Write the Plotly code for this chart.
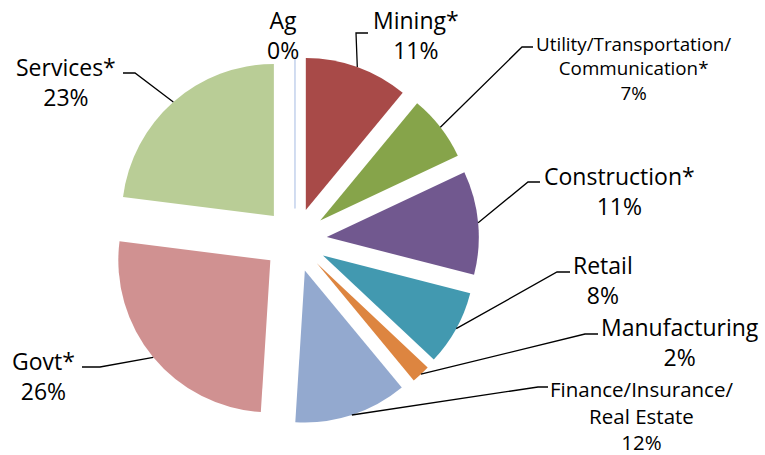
import math
import plotly.graph_objects as go

# ---- data ----
categories = ["Ag", "Mining*", "Utility/Transportation/Communication*", "Construction*",
              "Retail", "Manufacturing", "Finance/Insurance/Real Estate", "Govt*", "Services*"]
shares = [0, 11, 7, 11, 8, 2, 12, 26, 23]
label_text = ["Ag", "Mining*", "Utility/Transportation/<br>Communication*", "Construction*",
              "Retail", "Manufacturing", "Finance/Insurance/<br>Real Estate", "Govt*", "Services*"]
colors = ["#4F81BD", "#A84A48", "#86A44A", "#71588F", "#4299B0",
          "#DD8540", "#93A9CF", "#D09191", "#B9CD96"]

# ---- geometry ----
W, H = 765, 455
PULL = 0.21
DOM_X = [0.1451, 0.6261]
DOM_Y = [0.0681, 0.8769]
FONT = "Open Sans, Noto Sans, sans-serif"
BIG, SMALL, MID = 23, 18.8, 20.5

# label centre (px), leader knee + end (px), font size
label_pos = {
    "Ag": ((283, 35), None, BIG),
    "Mining*": ((416, 35), [(356, 33), (368, 33)], BIG),
    "Utility/Transportation/Communication*": ((633, 68), [(522, 47), (533, 47)], SMALL),
    "Construction*": ((619, 191), [(528, 182), (540, 182)], BIG),
    "Retail": ((603, 280), [(557, 272), (570, 272)], BIG),
    "Manufacturing": ((680, 342), [(585, 334), (598, 334)], BIG),
    "Finance/Insurance/Real Estate": ((641, 415), [(538, 387), (548, 387)], MID),
    "Govt*": ((43, 376), [(100, 367), (82, 367)], BIG),
    "Services*": ((66, 82), [(135, 73), (123, 73)], BIG),
}

fig = go.Figure(go.Pie(
    labels=categories, values=shares,
    sort=False, direction="clockwise", rotation=0,
    pull=[PULL] * len(shares),
    marker=dict(colors=colors,
                line=dict(color=["#B4C6E7"] + ["rgba(0,0,0,0)"] * (len(shares) - 1),
                          width=[1.2] + [0] * (len(shares) - 1))),
    textinfo="none", hoverinfo="label+percent",
    domain=dict(x=DOM_X, y=DOM_Y),
    showlegend=False,
))

# pie centre / radius as plotly computes them
cx = W * (DOM_X[0] + DOM_X[1]) / 2
cy = H * (1 - (DOM_Y[0] + DOM_Y[1]) / 2)
r = min(W * (DOM_X[1] - DOM_X[0]), H * (DOM_Y[1] - DOM_Y[0])) / 2 / (1 + PULL)

def px2paper(x, y):
    return x / W, 1 - y / H

total = sum(shares)
cum = 0
shapes, annotations = [], []
for name, val, txt in zip(categories, shares, label_text):
    mid = (cum + val / 2) / total * 2 * math.pi
    cum += val
    (lx, ly), leader, fs = label_pos[name]
    pct = f"{round(val / total * 100)}%"
    ax, ay = px2paper(lx, ly)
    annotations.append(dict(
        x=ax, y=ay, xref="paper", yref="paper", xanchor="center", yanchor="middle",
        text=f"{txt}<br>{pct}", showarrow=False, align="center",
        font=dict(family=FONT, size=fs, color="#000000"),
    ))
    if leader:
        # point on the arc at the slice's mid angle
        ex = cx + (1 + PULL) * r * math.sin(mid)
        ey = cy - (1 + PULL) * r * math.cos(mid)
        pts = [(ex, ey)] + leader
        path = "M " + " L ".join(f"{px2paper(x, y)[0]:.5f},{px2paper(x, y)[1]:.5f}" for x, y in pts)
        shapes.append(dict(type="path", xref="paper", yref="paper", path=path,
                           line=dict(color="#000000", width=1.3)))

fig.update_layout(
    width=W, height=H,
    margin=dict(l=0, r=0, t=0, b=0),
    paper_bgcolor="white", plot_bgcolor="white",
    font=dict(family=FONT, color="#000000"),
    shapes=shapes, annotations=annotations,
)

# page body has an 8px default margin; drop it so the figure sits at 0,0
fig.write_html("out.html", config={"displayModeBar": False},
               post_script="document.body.style.margin='0';")
